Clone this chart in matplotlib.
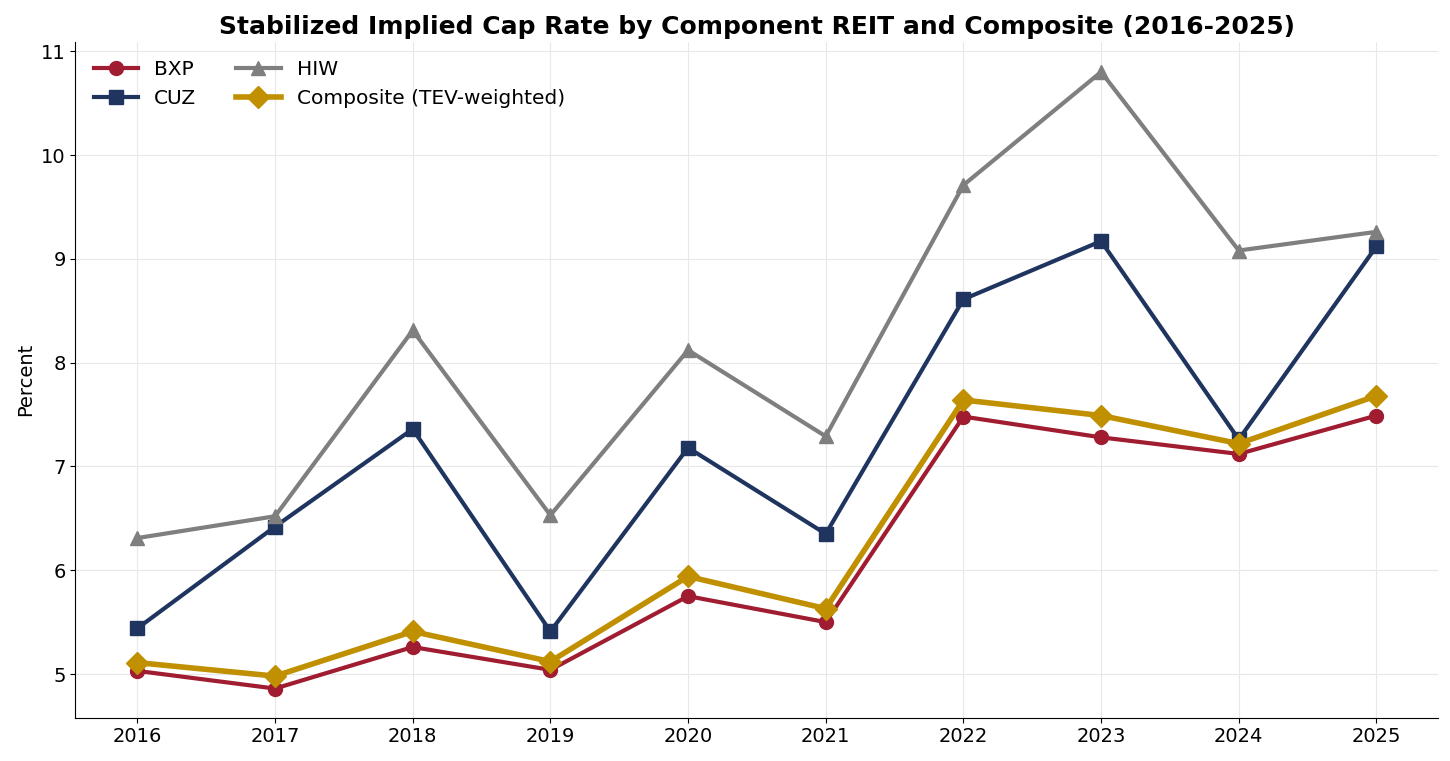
import matplotlib
matplotlib.use("Agg")
import matplotlib.pyplot as plt

years = [2016, 2017, 2018, 2019, 2020, 2021, 2022, 2023, 2024, 2025]
bxp = [5.03, 4.86, 5.26, 5.04, 5.75, 5.50, 7.48, 7.28, 7.12, 7.49]
cuz = [5.44, 6.42, 7.36, 5.41, 7.18, 6.35, 8.61, 9.17, 7.26, 9.12]
hiw = [6.31, 6.52, 8.31, 6.53, 8.12, 7.29, 9.71, 10.80, 9.08, 9.26]
composite = [5.11, 4.98, 5.41, 5.12, 5.94, 5.63, 7.64, 7.49, 7.22, 7.68]

fig, ax = plt.subplots(figsize=(14.5, 7.61), dpi=100)
fig.subplots_adjust(left=0.052, right=0.992, top=0.945, bottom=0.057)

ax.plot(years, bxp, color="#a01c30", lw=3, marker="o", ms=10, label="BXP")
ax.plot(years, cuz, color="#1f3560", lw=3, marker="s", ms=10, label="CUZ")
ax.plot(years, hiw, color="#7f7f7f", lw=3, marker="^", ms=10, label="HIW")
ax.plot(years, composite, color="#c09000", lw=4, marker="D", ms=11, label="Composite (TEV-weighted)")

ax.set_title("Stabilized Implied Cap Rate by Component REIT and Composite (2016-2025)",
             fontsize=18, fontweight="bold")
ax.set_ylabel("Percent", fontsize=14)
ax.set_xticks(years)
ax.tick_params(labelsize=14)
ax.set_ylim(4.58, 11.09)
ax.set_xlim(2015.55, 2025.45)
ax.grid(True, color="#e8e8e8", lw=0.8)
ax.spines["top"].set_visible(False)
ax.spines["right"].set_visible(False)
ax.legend(loc="upper left", ncol=2, frameon=False, fontsize=14.5, handlelength=2.2)

plt.savefig("out.png")
